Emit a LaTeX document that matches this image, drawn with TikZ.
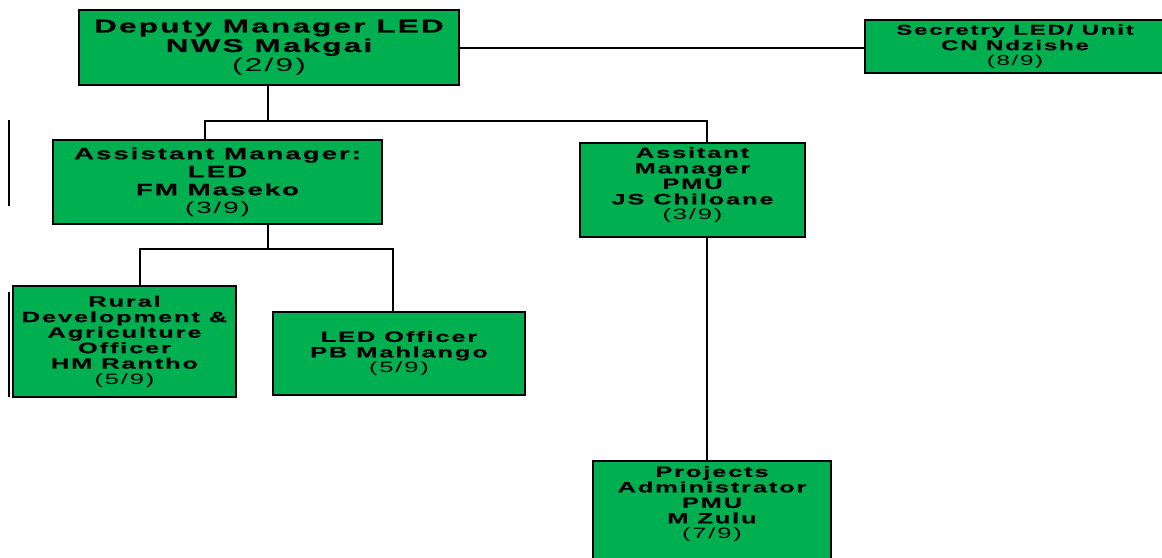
\documentclass[tikz,border=0pt]{standalone}
\usepackage{fontspec}
\setmainfont{Liberation Sans}[FakeStretch=1.7,LetterSpace=12,BoldFeatures={FakeStretch=1.7,LetterSpace=12,FakeBold=0.6}]
\definecolor{ledgreen}{RGB}{0,176,80}
\begin{document}
\begin{tikzpicture}[x=1pt,y=-1pt,
  box/.style={draw=black,line width=1.5pt,fill=ledgreen,inner sep=0pt,align=center,font=\fontsize{15}{15.5}\selectfont},
  txt/.style={inner sep=0pt,align=center,font=\fontsize{15}{15.5}\selectfont},
  conn/.style={draw=black,line width=2pt}]
\useasboundingbox (0,0) rectangle (1162,557);
\node[box,minimum width=380,minimum height=75,font=\fontsize{18.5}{19.5}\selectfont] (dep) at (269,47.5)
  {\bfseries Deputy Manager LED\\ \bfseries NWS Makgai\\ (2/9)};
\node[box,minimum width=300,minimum height=53,font=\fontsize{14.2}{15.5}\selectfont] (sec) at (1015,46.5)
  {\bfseries Secretry LED/ Unit\\ \bfseries CN Ndzishe\\ (8/9)};
\node[box,minimum width=329,minimum height=84,font=\fontsize{16.3}{18}\selectfont] (alm) at (217.5,182)
  {\bfseries Assistant Manager:\\ \bfseries LED\\ \bfseries FM Maseko\\ (3/9)};
\node[box,minimum width=225,minimum height=94] (pmu) at (692.5,190) {};
\node[txt] (pmut) at ([yshift=5pt]pmu.center)
  {\bfseries Assitant\\ \bfseries Manager\\ \bfseries PMU\\ \bfseries JS Chiloane\\ (3/9)};
\node[box,minimum width=223,minimum height=111] (rur) at (124.5,341.5)
  {\bfseries Rural\\ \bfseries Development \&\\ \bfseries Agriculture\\ \bfseries Officer\\ \bfseries HM Rantho\\ (5/9)};
\node[box,minimum width=252,minimum height=83] (ledo) at (399,353.5)
  {\bfseries LED Officer\\ \bfseries PB Mahlango\\ (5/9)};
\node[box,minimum width=238,minimum height=98] (proj) at (712,510) {};
\node[txt] (projt) at ([yshift=6pt]proj.center)
  {\bfseries Projects\\ \bfseries Administrator\\ \bfseries PMU\\ \bfseries M Zulu\\ (7/9)};
% junction coordinates
\coordinate (b1) at (268,121);
\coordinate (b2) at (205,121);
\coordinate (b3) at (707,121);
\coordinate (c1) at (268,249);
\coordinate (c2) at (140,249);
\coordinate (c3) at (393,249);
\coordinate (s1) at (9,120);
\coordinate (s2) at (9,206);
\coordinate (s3) at (9,292);
\coordinate (s4) at (9,397);
% connectors
\draw[conn] (dep.east) -- (dep.east -| sec.west);
\draw[conn] (dep.south -| b1) -- (b1);
\draw[conn] (b2 |- alm.north) |- (b3) -- (b3 |- pmu.north);
\draw[conn] (alm.south -| c1) -- (c1);
\draw[conn] (c2 |- rur.north) |- (c3) -- (c3 |- ledo.north);
\draw[conn] (pmu.south -| b3) -- (b3 |- proj.north);
% stray marks
\draw[conn] (s1) -- (s2);
\draw[conn] (s3) -- (s4);
\end{tikzpicture}
\end{document}
